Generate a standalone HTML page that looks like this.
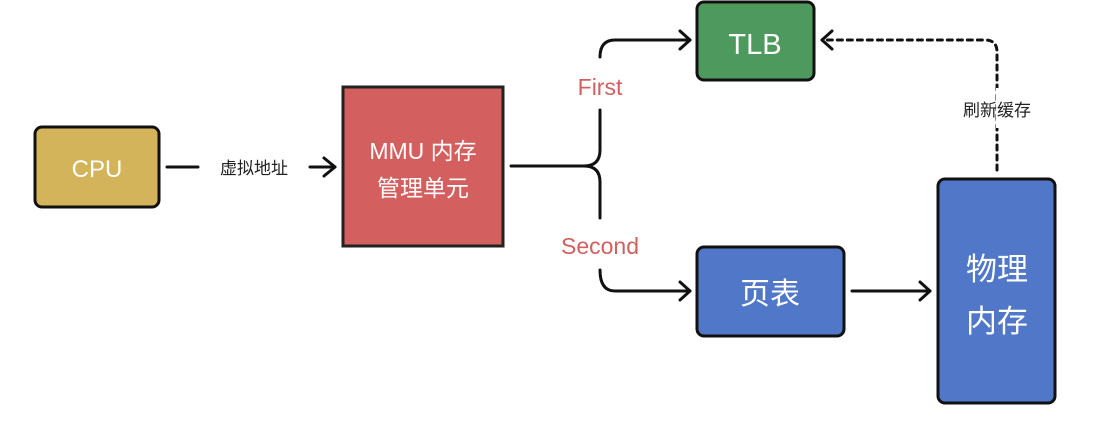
<!DOCTYPE html>
<html><head><meta charset="utf-8"><style>
html,body{margin:0;padding:0;background:#fff;}
svg{display:block;}
text{font-family:"Liberation Sans","Noto Sans CJK SC",sans-serif;}
</style></head><body>
<svg width="1118" height="426" viewBox="0 0 1118 426" xmlns="http://www.w3.org/2000/svg">
<rect width="1118" height="426" fill="#fff"/>
<!-- boxes -->
<rect x="35" y="127" width="124" height="80" rx="7" fill="#d4b45a" stroke="#111" stroke-width="3"/>
<text x="97" y="177" font-size="24" fill="#fff" text-anchor="middle">CPU</text>
<rect x="343" y="87" width="160" height="159" fill="#d45f5f" stroke="#222" stroke-width="3"/>
<text x="423" y="159" font-size="23" fill="#fff" text-anchor="middle">MMU 内存</text>
<text x="423" y="196" font-size="23" fill="#fff" text-anchor="middle">管理单元</text>
<rect x="697" y="2" width="117" height="78" rx="7" fill="#4e9a5e" stroke="#111" stroke-width="3"/>
<text x="755" y="54" font-size="29" fill="#fff" text-anchor="middle">TLB</text>
<rect x="697" y="247" width="147" height="89" rx="7" fill="#5077c8" stroke="#111" stroke-width="3"/>
<text x="770" y="304" font-size="30" fill="#fff" text-anchor="middle">页表</text>
<rect x="938" y="179" width="117" height="224" rx="7" fill="#5077c8" stroke="#111" stroke-width="3"/>
<text x="997" y="280" font-size="31" fill="#fff" text-anchor="middle">物理</text>
<text x="997" y="332" font-size="31" fill="#fff" text-anchor="middle">内存</text>
<!-- CPU -> MMU -->
<g stroke="#111" stroke-width="3" fill="none" stroke-linecap="round" stroke-linejoin="round">
<line x1="167" y1="167" x2="198" y2="167"/>
<line x1="310" y1="167" x2="335" y2="167"/>
<polyline points="324,158 335,167 324,176"/>
<!-- bracket -->
<line x1="511" y1="166" x2="584" y2="166"/>
<path d="M584,166 Q600,166 600,150 L600,110"/>
<path d="M584,166 Q600,166 600,182 L600,218"/>
<path d="M600,57 Q600,40 615,40 L690,40"/>
<polyline points="680,31 690,40 680,49"/>
<path d="M600,270 Q600,291 615,291 L690,291"/>
<polyline points="680,282 690,291 680,300"/>
<!-- page table -> phys -->
<line x1="852" y1="291" x2="930" y2="291"/>
<polyline points="920,282 930,291 920,300"/>
<!-- dashed refresh -->
<path d="M997,170 L997,52 Q997,40 985,40 L822,40" stroke-dasharray="5,5"/>
<polyline points="832,31 822,40 832,49"/>
</g>
<rect x="996" y="88" width="4" height="40" fill="#fff"/>
<text x="254" y="174" font-size="17" fill="#222" text-anchor="middle">虚拟地址</text>
<text x="600" y="95" font-size="23" fill="#d45f5f" text-anchor="middle">First</text>
<text x="600" y="254" font-size="23" fill="#d45f5f" text-anchor="middle">Second</text>
<text x="997" y="116" font-size="17" fill="#222" text-anchor="middle">刷新缓存</text>
</svg>
</body></html>
